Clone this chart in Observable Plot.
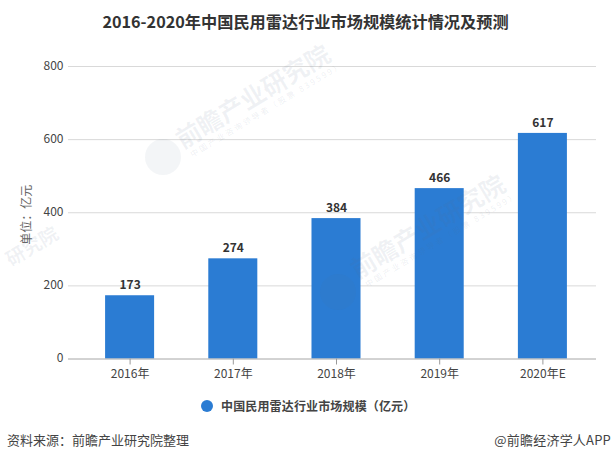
<!DOCTYPE html>
<html><head><meta charset="utf-8">
<script src="https://cdn.jsdelivr.net/npm/d3@7"></script>
<script src="https://cdn.jsdelivr.net/npm/@observablehq/plot@0.6"></script>
<style>
html,body{margin:0;padding:0;background:#fff;width:611px;height:462px;overflow:hidden}
body{position:relative;font-family:"Noto Sans CJK SC","Noto Sans",sans-serif}
#title{position:absolute;left:0;width:611px;top:10px;text-align:center;font-size:16.2px;font-weight:700;color:#333;line-height:22px}
#chart{position:absolute;left:0;top:45px}
#legend{position:absolute;left:201px;top:397px;font-size:12px;font-weight:700;color:#444;line-height:18px;display:flex;align-items:center;white-space:nowrap;letter-spacing:.15px}
#legend i{display:inline-block;width:12px;height:12px;border-radius:50%;background:#2b7cd3;margin-right:8px}
#src{position:absolute;left:7px;top:430px;font-size:13px;color:#444;line-height:20px}
#brand{position:absolute;right:0;top:430px;font-size:13px;color:#444;line-height:20px;letter-spacing:.2px}
.wm,.sub,.logo{position:absolute;z-index:2;pointer-events:none}
.wm{font-weight:700;color:rgba(90,110,140,.09);white-space:nowrap;transform:rotate(-31deg);transform-origin:left center;line-height:30px;font-size:25px}
.sub{color:rgba(90,110,140,.11);white-space:nowrap;transform:rotate(-31deg);transform-origin:left center;line-height:10px;font-size:8px;letter-spacing:2.2px}
.logo{width:36px;height:36px;border-radius:50%;background:rgba(90,110,140,.07)}
</style></head><body>
<div id="title">2016-2020年中国民用雷达行业市场规模统计情况及预测</div>
<div id="chart"></div>
<div class="logo" style="left:145px;top:139px"></div>
<div class="wm" style="left:177px;top:125px">前瞻产业研究院</div>
<div class="sub" style="left:191px;top:150px">中国产业咨询领导者（股票 839599）</div>
<div class="logo" style="left:320px;top:274px"></div>
<div class="wm" style="left:352px;top:255px">前瞻产业研究院</div>
<div class="sub" style="left:366px;top:280px">中国产业咨询领导者（股票 839599）</div>
<div class="wm" style="left:7px;top:250px;font-size:19px;line-height:20px">研究院</div>
<div id="legend"><i></i><span>中国民用雷达行业市场规模（亿元）</span></div>
<div id="src">资料来源：前瞻产业研究院整理</div>
<div id="brand">@前瞻经济学人APP</div>
<script>
const years = ["2016年","2017年","2018年","2019年","2020年E"];
const values = [173,274,384,466,617];
const yTicks = [0,200,400,600,800];
const rows = years.map((year,i)=>({year,value:values[i]}));
const font = '"Noto Sans CJK SC","Noto Sans",sans-serif';
const plot = Plot.plot({
  width:611, height:345,
  marginLeft:68, marginRight:15, marginTop:21, marginBottom:31.5,
  style:{fontFamily:font,background:"transparent",overflow:"visible"},
  x:{domain:years,label:null,insetLeft:10,insetRight:2,paddingInner:.525,paddingOuter:.2625,round:false},
  y:{domain:[0,800],label:null},
  marks:[
    Plot.ruleY(yTicks.filter(d=>d>0),{stroke:"#d9d9d9",strokeWidth:1,strokeOpacity:1}),
    Plot.barY(rows,{x:"year",y:"value",fill:"#2b7cd3"}),
    Plot.ruleY([0],{stroke:"#a6a6a6",strokeWidth:1}),
    Plot.axisX({tickSize:6,tickPadding:4,fontSize:12,stroke:"#999",color:"#444",label:null}),
    Plot.axisY(yTicks,{tickSize:0,tickPadding:5,fontSize:12,color:"#444",label:null,dy:-0.5}),
    Plot.text(rows,{x:"year",y:"value",text:d=>String(d.value),dy:-10.5,fontSize:12,fontWeight:700,fill:"#333",letterSpacing:"0.5px"}),
    Plot.text(["单位：亿元"],{frameAnchor:"left",dx:-41,dy:32,rotate:-90,fontSize:12,fill:"#666"})
  ]
});
document.getElementById("chart").append(plot);
</script>
</body></html>
